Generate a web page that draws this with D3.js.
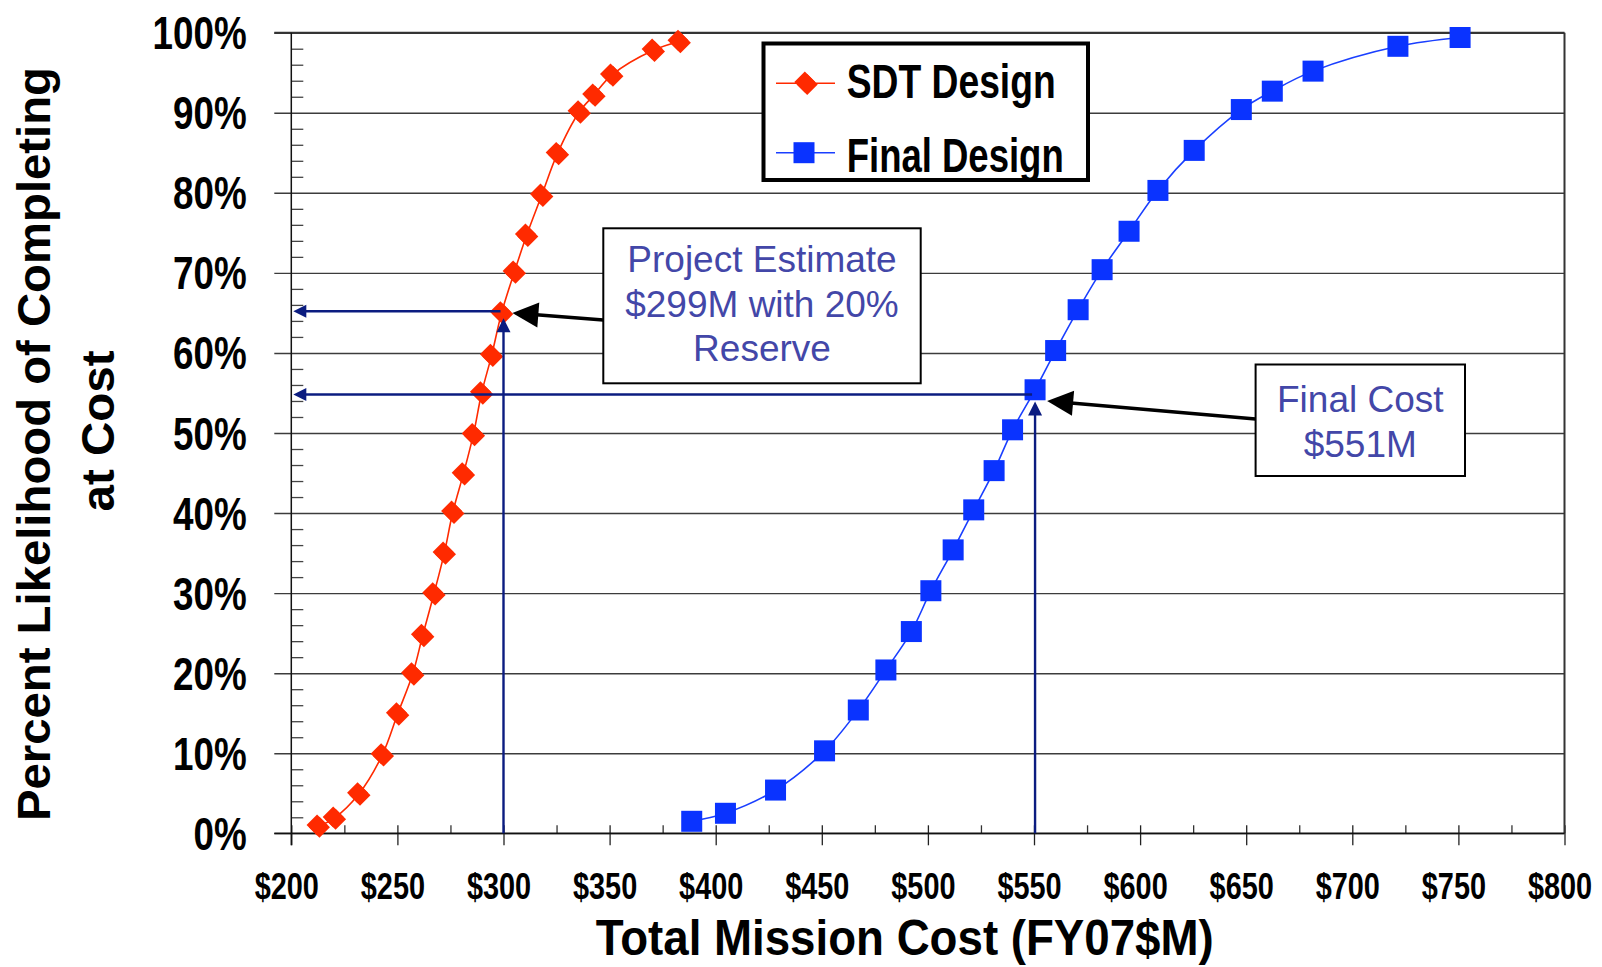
<!DOCTYPE html>
<html>
<head>
<meta charset="utf-8">
<script src="https://cdn.jsdelivr.net/npm/d3@7"></script>
<style>
  html, body { margin: 0; padding: 0; background: #ffffff; }
  svg { display: block; }
  text { font-family: "Liberation Sans", Arial, sans-serif; }
</style>
</head>
<body>
<script>
// ---------------- DATA ----------------
const xTickValues = [200, 250, 300, 350, 400, 450, 500, 550, 600, 650, 700, 750, 800];
const xTickLabels = ["$200", "$250", "$300", "$350", "$400", "$450", "$500", "$550", "$600", "$650", "$700", "$750", "$800"];
const yTickValues = [0, 10, 20, 30, 40, 50, 60, 70, 80, 90, 100];
const yTickLabels = ["0%", "10%", "20%", "30%", "40%", "50%", "60%", "70%", "80%", "90%", "100%"];

const seriesNames = ["SDT Design", "Final Design"];

const sdtCost = [212.7, 220.3, 231.8, 242.9, 250.1, 257.2, 261.9, 267.2, 272.1, 276.1, 281.1, 285.8,
                 289.7, 294.4, 299.1, 305.1, 310.9, 318.0, 325.4, 335.7, 342.6, 351.0, 370.6, 382.8];
const sdtPct  = [0.9, 1.9, 4.9, 9.8, 14.9, 19.9, 24.7, 29.9, 35.0, 40.1, 44.9, 49.8,
                 55.0, 59.7, 65.0, 70.1, 74.7, 79.7, 84.9, 90.1, 92.2, 94.7, 97.8, 98.9];

const finalCost = [388.7, 404.6, 428.2, 451.3, 467.2, 480.2, 492.2, 501.4, 511.9, 521.6, 531.2, 539.9,
                   550.5, 560.2, 570.8, 582.1, 594.8, 608.4, 625.5, 647.7, 662.3, 681.5, 721.5, 750.8];
const finalPct  = [1.5, 2.5, 5.4, 10.3, 15.4, 20.4, 25.2, 30.3, 35.4, 40.4, 45.3, 50.4,
                   55.4, 60.3, 65.4, 70.4, 75.2, 80.3, 85.3, 90.4, 92.7, 95.2, 98.3, 99.4];

// reference (navy) lines: cost and percent level
const refCost = [300, 550.5];
const refPct  = [65.2, 54.8];

// callouts
const calloutLines = [["Project Estimate", "$299M with 20%", "Reserve"], ["Final Cost", "$551M"]];
const calloutCost = [299, 551];
const calloutPct  = [65, 54];

const xTitle = "Total Mission Cost (FY07$M)";
const yTitle = ["Percent Likelihood of Completing", "at Cost"];

// ---------------- LAYOUT ----------------
const W = 1602, H = 967;
const L = 291.3, R = 1564.5, T = 32.7, B = 833.3;
const RED = "#ff2a00", BLUE = "#0a33ff", NAVY = "#0b1c80", TXTBLUE = "#4347a8";

const svg = d3.select("body").append("svg").attr("width", W).attr("height", H);
svg.append("rect").attr("width", W).attr("height", H).attr("fill", "#fff");

const x = d3.scaleLinear().domain([200, 800]).range([L, R]);
const y = d3.scaleLinear().domain([0, 100]).range([B, T]);

// gridlines + major y ticks (extend 17px left of axis)
const gy = svg.append("g").attr("transform", `translate(${L - 17},0)`)
  .call(d3.axisRight(y).tickValues(yTickValues).tickSize(R - L + 17).tickFormat(""));
gy.select(".domain").remove();
gy.selectAll(".tick line").attr("stroke", "#3c3c3c").attr("stroke-width", 1.4);

// minor y ticks every 2%
const minorY = d3.range(0, 101, 2).filter(v => v % 10 !== 0);
const gym = svg.append("g").attr("transform", `translate(${L},0)`)
  .call(d3.axisRight(y).tickValues(minorY).tickSize(12).tickFormat(""));
gym.select(".domain").remove();
gym.selectAll(".tick line").attr("stroke", "#444").attr("stroke-width", 1.3);

// minor x ticks (inward)
const minorX = d3.range(225, 800, 50);
const gxm = svg.append("g").attr("transform", `translate(0,${B})`)
  .call(d3.axisTop(x).tickValues(minorX).tickSize(8).tickFormat(""));
gxm.select(".domain").remove();
gxm.selectAll(".tick line").attr("stroke", "#333").attr("stroke-width", 1.3);

// major x ticks (cross axis)
const gx = svg.append("g").attr("transform", `translate(0,${B - 8})`)
  .call(d3.axisBottom(x).tickValues(xTickValues).tickSize(20).tickFormat(""));
gx.select(".domain").remove();
gx.selectAll(".tick line").attr("stroke", "#222").attr("stroke-width", 1.3);

// frame
svg.append("line").attr("x1", R).attr("x2", R).attr("y1", T).attr("y2", B)
  .attr("stroke", "#333").attr("stroke-width", 2);
svg.append("line").attr("x1", L - 17).attr("x2", R).attr("y1", T).attr("y2", T)
  .attr("stroke", "#333").attr("stroke-width", 2);
svg.append("line").attr("x1", L).attr("x2", L).attr("y1", T).attr("y2", B + 12)
  .attr("stroke", "#111").attr("stroke-width", 1.5);
svg.append("line").attr("x1", L - 17).attr("x2", R).attr("y1", B).attr("y2", B)
  .attr("stroke", "#111").attr("stroke-width", 1.6);

// y tick labels (bold narrow)
yTickValues.forEach((v, i) => {
  svg.append("text")
    .attr("transform", `translate(246.7,${y(v) + 16.5}) scale(0.8,1)`)
    .attr("text-anchor", "end").attr("font-weight", "bold").attr("font-size", 46)
    .attr("fill", "#000").text(yTickLabels[i]);
});
// x tick labels
xTickValues.forEach((v, i) => {
  svg.append("text")
    .attr("transform", `translate(${x(v) - 4.5},898.5) scale(0.78,1)`)
    .attr("text-anchor", "middle").attr("font-weight", "bold").attr("font-size", 37)
    .attr("fill", "#000").text(xTickLabels[i]);
});

// axis titles
svg.append("text").attr("x", 904.7).attr("y", 955).attr("text-anchor", "middle")
  .attr("font-weight", "bold").attr("font-size", 50)
  .attr("textLength", 618).attr("lengthAdjust", "spacingAndGlyphs").text(xTitle);
svg.append("text").attr("transform", "translate(50,444) rotate(-90)").attr("text-anchor", "middle")
  .attr("font-weight", "bold").attr("font-size", 47)
  .attr("textLength", 754).attr("lengthAdjust", "spacingAndGlyphs").text(yTitle[0]);
svg.append("text").attr("transform", "translate(114,431) rotate(-90)").attr("text-anchor", "middle")
  .attr("font-weight", "bold").attr("font-size", 47)
  .attr("textLength", 161).attr("lengthAdjust", "spacingAndGlyphs").text(yTitle[1]);

// series lines
const sdt = sdtCost.map((c, i) => ({ c, p: sdtPct[i] }));
const fin = finalCost.map((c, i) => ({ c, p: finalPct[i] }));
const line = d3.line().x(d => x(d.c)).y(d => y(d.p)).curve(d3.curveCatmullRom.alpha(0.5));
svg.append("path").datum(sdt).attr("d", line).attr("fill", "none").attr("stroke", RED).attr("stroke-width", 1.6);
svg.append("path").datum(fin).attr("d", line).attr("fill", "none").attr("stroke", "#1a3fff").attr("stroke-width", 1.6);

function diamond(g, cx, cy, r) {
  [[-1.2, -1.2], [1.2, 1.2]].forEach(([dx, dy]) => {
    g.append("path")
      .attr("d", `M${cx + dx},${cy + dy - r}L${cx + dx + r},${cy + dy}L${cx + dx},${cy + dy + r}L${cx + dx - r},${cy + dy}Z`)
      .attr("fill", RED);
  });
}
const gPts = svg.append("g");
sdt.forEach(d => diamond(gPts, x(d.c), y(d.p), 10.5));
gPts.selectAll("rect.fin").data(fin).enter().append("rect").attr("class", "fin")
  .attr("x", d => x(d.c) - 10.5).attr("y", d => y(d.p) - 10.5)
  .attr("width", 21).attr("height", 21).attr("fill", BLUE);

// arrow helper
function arrow(x1, y1, x2, y2, len, hw, color, w) {
  const dx = x2 - x1, dy = y2 - y1, d = Math.hypot(dx, dy);
  const ux = dx / d, uy = dy / d;
  const bx = x2 - ux * len, by = y2 - uy * len;
  svg.append("line").attr("x1", x1).attr("y1", y1).attr("x2", bx + ux * 2).attr("y2", by + uy * 2)
    .attr("stroke", color).attr("stroke-width", w);
  svg.append("path")
    .attr("d", `M${x2},${y2}L${bx - uy * hw},${by + ux * hw}L${bx + uy * hw},${by - ux * hw}Z`)
    .attr("fill", color);
}

// navy reference arrows
refCost.forEach((c, i) => {
  const xv = x(c), yv = y(refPct[i]);
  arrow(xv, B, xv, yv + 7, 14, 7, NAVY, 2.4);
  arrow(xv - 3, yv, L + 2, yv, 13, 6.5, NAVY, 2.4);
});

// legend
svg.append("rect").attr("x", 763.5).attr("y", 43.5).attr("width", 324.5).attr("height", 136.5)
  .attr("fill", "#fff").attr("stroke", "#000").attr("stroke-width", 4);
const legY = [83.3, 152.7];
svg.append("line").attr("x1", 776).attr("x2", 835).attr("y1", legY[0]).attr("y2", legY[0]).attr("stroke", RED).attr("stroke-width", 1.6);
diamond(svg, 806, legY[0], 10.5);
svg.append("line").attr("x1", 776).attr("x2", 835).attr("y1", legY[1]).attr("y2", legY[1]).attr("stroke", "#1a3fff").attr("stroke-width", 1.6);
svg.append("rect").attr("x", 793.5).attr("y", legY[1] - 10.5).attr("width", 21).attr("height", 21).attr("fill", BLUE);
svg.append("text").attr("x", 846.7).attr("y", 98.3).attr("font-weight", "bold").attr("font-size", 49)
  .attr("textLength", 209).attr("lengthAdjust", "spacingAndGlyphs").text(seriesNames[0]);
svg.append("text").attr("x", 846.7).attr("y", 171.5).attr("font-weight", "bold").attr("font-size", 49)
  .attr("textLength", 217).attr("lengthAdjust", "spacingAndGlyphs").text(seriesNames[1]);

// callout boxes
const boxes = [
  { x0: 603.3, y0: 228.3, x1: 920.7, y1: 383.3, base: 272, step: 44.5, ay: 320 },
  { x0: 1255.6, y0: 364.5, x1: 1465, y1: 476, base: 412.3, step: 45, ay: 419 }
];
boxes.forEach((b, i) => {
  svg.append("rect").attr("x", b.x0).attr("y", b.y0).attr("width", b.x1 - b.x0).attr("height", b.y1 - b.y0)
    .attr("fill", "#fff").attr("stroke", "#000").attr("stroke-width", 2);
  calloutLines[i].forEach((t, j) => {
    svg.append("text").attr("x", (b.x0 + b.x1) / 2).attr("y", b.base + j * b.step)
      .attr("text-anchor", "middle").attr("font-size", 37).attr("fill", TXTBLUE).text(t);
  });
  arrow(b.x0, b.ay, x(calloutCost[i]) + 11, y(calloutPct[i]), 26, 12.5, "#000", 3.6);
});
</script>
</body>
</html>
